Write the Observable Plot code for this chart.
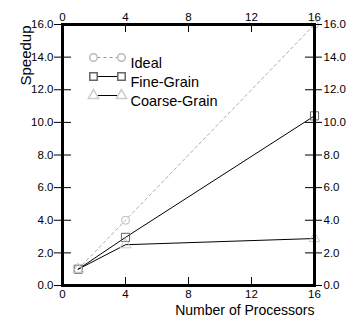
<!DOCTYPE html>
<html><head><meta charset="utf-8">
<script src="https://cdn.jsdelivr.net/npm/d3@7"></script>
<script src="https://cdn.jsdelivr.net/npm/@observablehq/plot@0.6"></script>
<style>body{margin:0;background:#fff}</style>
</head><body><div id="chart"></div>
<script>
const processors = [1, 4, 16];
const ideal = [1, 4, 16];
const fineGrain = [1, 2.95, 10.4];
const coarseGrain = [1, 2.5, 2.88];
const xTicks = [0, 4, 8, 12, 16];
const yTicks = [0, 2, 4, 6, 8, 10, 12, 14, 16];
const legendLabels = ["Ideal", "Fine-Grain", "Coarse-Grain"];

const W = 347, H = 322, mL = 62, mR = 33, mT = 24, mB = 37;
const pw = W - mL - mR, ph = H - mT - mB;
const rows = (ys) => processors.map((x, i) => ({x, y: ys[i]}));
const idealD = rows(ideal), fineD = rows(fineGrain), coarseD = rows(coarseGrain);
const font = "Liberation Sans, Arial, Helvetica, sans-serif";

// horizontal line symbol for legend samples
const hline = {draw(ctx) { ctx.moveTo(-10, 0); ctx.lineTo(10, 0); }};

const legendDy = [33, 52, 71];
const legendMarks = [];
const styles = [
  {symbol: "circle", r: 3.8, stroke: "#bbb", line: "#999", dash: "3,3"},
  {symbol: "square", r: 4.2, stroke: "#666", line: "#000", dash: null},
  {symbol: "triangle", r: 3.8, stroke: "#ccc", line: "#000", dash: null}
];
legendLabels.forEach((label, i) => {
  const s = styles[i];
  legendMarks.push(
    Plot.dot([label], {frameAnchor: "top-left", dx: 45, dy: legendDy[i], symbol: hline, r: 5, stroke: s.line, strokeWidth: 1, strokeDasharray: s.dash, fill: "none"}),
    Plot.dot([label], {frameAnchor: "top-left", dx: 31, dy: legendDy[i], symbol: s.symbol, r: s.r, stroke: s.stroke, fill: "#fff"}),
    Plot.dot([label], {frameAnchor: "top-left", dx: 59, dy: legendDy[i], symbol: s.symbol, r: s.r, stroke: s.stroke, fill: "#fff"}),
    Plot.text([label], {frameAnchor: "top-left", textAnchor: "start", dx: 68, dy: legendDy[i], fontSize: 14.5})
  );
});

const plot = Plot.plot({
  width: W, height: H,
  marginLeft: mL, marginRight: mR, marginTop: mT, marginBottom: mB,
  style: {fontFamily: font, fontSize: "11px", color: "#000", background: "#fff"},
  x: {domain: [0, 16], axis: null},
  y: {domain: [0, 16], axis: null},
  marks: [
    Plot.line(idealD, {x: "x", y: "y", stroke: "#999", strokeWidth: 0.8, strokeDasharray: "3,3"}),
    Plot.line(fineD, {x: "x", y: "y", stroke: "#000", strokeWidth: 1}),
    Plot.line(coarseD, {x: "x", y: "y", stroke: "#000", strokeWidth: 1}),
    Plot.dot(idealD, {x: "x", y: "y", symbol: "circle", r: 4, stroke: "#bbb", fill: "none", strokeWidth: 1}),
    Plot.dot(fineD, {x: "x", y: "y", symbol: "square", r: 4.6, stroke: "#666", fill: "none", strokeWidth: 1}),
    Plot.dot(coarseD, {x: "x", y: "y", symbol: "triangle", r: 4, stroke: "#ccc", fill: "none", strokeWidth: 1}),
    // ticks
    Plot.tickX(xTicks, {x: d => d, insetTop: ph - 8, stroke: "#000"}),
    Plot.tickX(xTicks, {x: d => d, insetBottom: ph - 8, stroke: "#000"}),
    Plot.tickY(yTicks, {y: d => d, insetLeft: -8, insetRight: pw - 9, stroke: "#000"}),
    Plot.tickY(yTicks, {y: d => d, insetRight: -8, insetLeft: pw - 9, stroke: "#000"}),
    Plot.axisX(xTicks, {anchor: "bottom", tickSize: 0, tickPadding: 4, label: null, tickFormat: d => d, fontSize: 11.5}),
    Plot.axisX(xTicks, {anchor: "top", tickSize: 0, tickPadding: 4, label: null, tickFormat: d => d, fontSize: 11.5}),
    Plot.axisY(yTicks, {anchor: "left", tickSize: 0, tickPadding: 9, label: null, tickFormat: d => d.toFixed(1), fontSize: 11.5}),
    Plot.axisY(yTicks, {anchor: "right", tickSize: 0, tickPadding: 9, label: null, tickFormat: d => d.toFixed(1), fontSize: 11.5}),
    Plot.frame({stroke: "#000", strokeWidth: 3}),
    // axis titles
    Plot.text(["Number of Processors"], {frameAnchor: "bottom-right", textAnchor: "end", dy: 29, fontSize: 14}),
    Plot.text(["Speedup"], {frameAnchor: "top-left", textAnchor: "end", rotate: -90, dx: -42, dy: 1, fontSize: 15}),
    ...legendMarks
  ]
});
document.getElementById("chart").appendChild(plot);
</script></body></html>
